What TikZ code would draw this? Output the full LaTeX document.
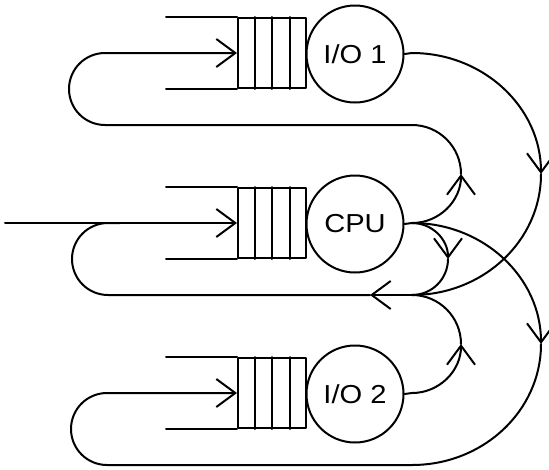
\documentclass[tikz,border=0pt]{standalone}
\usepackage{fontspec}
\newfontfamily\plotfont[FakeStretch=1.12]{Liberation Sans}
\usetikzlibrary{arrows.meta,calc}
\begin{document}
\begin{tikzpicture}[x=1pt,y=-1pt,line width=2pt,line cap=round,line join=round,
  station/.style={circle,draw,minimum size=97pt,inner sep=0pt,
    font=\plotfont\fontsize{26}{26}\selectfont},
  queue/.style={rectangle,draw,minimum width=68pt,minimum height=70pt,inner sep=0pt},
  flow/.style={-{Straight Barb[length=19pt,width=28pt]}}]
\useasboundingbox (0,0) rectangle (549,469);

% queues with their open-ended walls and four slots
\foreach \q/\y in {q1/53,qc/223,q2/393}{
  \node[queue] (\q) at (272,\y) {};
  \draw ([xshift=-71pt]\q.north west) -- (\q.north west);
  \draw ([xshift=-71pt]\q.south west) -- (\q.south west);
  \foreach \f in {0.25,0.5,0.75}
    \draw ($(\q.north west)!\f!(\q.north east)$) -- ($(\q.south west)!\f!(\q.south east)$);
}

% service stations
\node[station] (io1) at (355,54) {I/O 1};
\node[station] (cpu) at (355,224) {CPU};
\node[station] (io2) at (355,394) {I/O 2};

% branching points and returns
\coordinate (io1out) at (412,53);
\coordinate (cpuout) at (412,223);
\coordinate (io2out) at (412,393);
\coordinate (ret1) at (412,125);
\coordinate (retc) at (412,295);
\coordinate (ret2) at (412,465);
\coordinate (cmark) at (370,295);
\coordinate (src) at (5,223);
\coordinate (b1) at (541,174);
\coordinate (b2) at (461,174);
\coordinate (b3) at (448,259);
\coordinate (b4) at (541,344);
\coordinate (b5) at (461,344);

\draw (io1.east) -- (io1out);
\draw (cpu.east) -- (cpuout);
\draw (io2.east) -- (io2out);

% I/O 1 -> CPU
\draw[flow] (io1out) arc[start angle=-90,end angle=0,x radius=129,y radius=121];
\draw (b1) arc[start angle=0,end angle=90,x radius=129,y radius=121];
% CPU -> I/O 1
\draw[flow] (cpuout) arc[start angle=90,end angle=0,radius=49];
\draw (b2) arc[start angle=0,end angle=-90,radius=49];
% CPU -> CPU
\draw[flow] (cpuout) arc[start angle=-90,end angle=0,radius=36];
\draw (b3) arc[start angle=0,end angle=90,radius=36];
% CPU -> I/O 2
\draw[flow] (cpuout) arc[start angle=-90,end angle=0,x radius=129,y radius=121];
\draw (b4) arc[start angle=0,end angle=90,x radius=129,y radius=121];
% I/O 2 -> CPU
\draw[flow] (io2out) arc[start angle=90,end angle=0,radius=49];
\draw (b5) arc[start angle=0,end angle=-90,radius=49];

% return lines into the queues
\draw[flow] (ret1) -- (105,125) arc[start angle=90,end angle=270,radius=36] -- (q1.west);
\draw[flow] (retc) -- (cmark);
\draw (cmark) -- (108,295) arc[start angle=90,end angle=270,radius=36] -- (120,223);
\draw[flow] (ret2) -- (107,465) arc[start angle=90,end angle=270,radius=36] -- (q2.west);
\draw[flow] (src) -- (qc.west);
\end{tikzpicture}
\end{document}
